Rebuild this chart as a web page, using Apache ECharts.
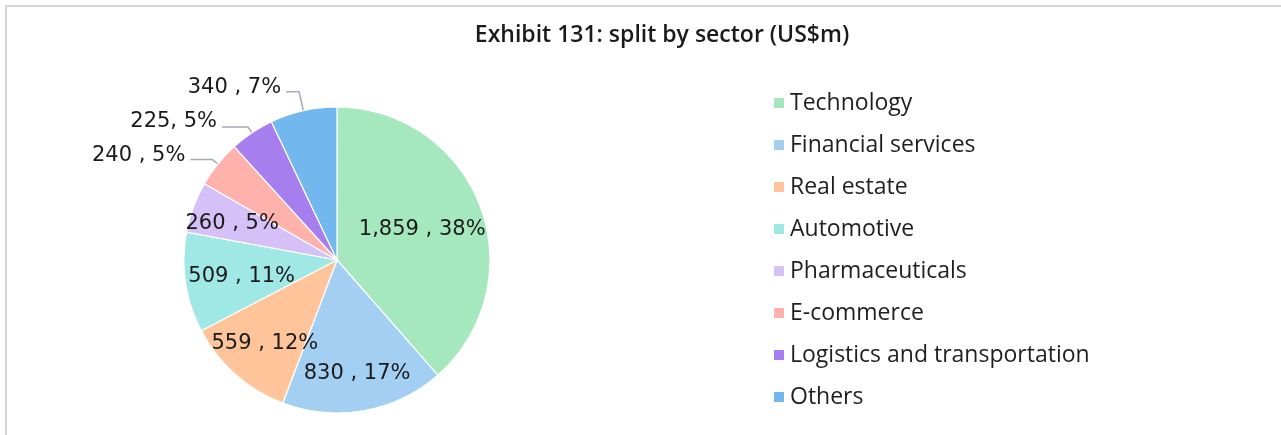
<!DOCTYPE html>
<html>
<head>
<meta charset="utf-8">
<script src="https://cdn.jsdelivr.net/npm/echarts@6/dist/echarts.min.js"></script>
<style>
  html, body { margin: 0; padding: 0; background: #ffffff; }
  #chart { width: 1281px; height: 435px; }
</style>
</head>
<body>
<div id="chart"></div>
<script>
// Sector split, US$m
const sectors = ['Technology', 'Financial services', 'Real estate', 'Automotive',
                 'Pharmaceuticals', 'E-commerce', 'Logistics and transportation', 'Others'];
const amounts = [1859, 830, 559, 509, 260, 240, 225, 340];
const shares = [38, 17, 12, 11, 5, 5, 5, 7];           // % as published
const sliceColors = ['#a5e8bd', '#a3cff3', '#ffc499', '#a0e8e5',
                     '#d5c0f7', '#ffb2ab', '#a77eed', '#72b8ee'];

const TITLE = 'Exhibit 131: split by sector (US$m)';

// pie geometry
const CENTER = [337, 260];
const RADIUS = 153;
// radial position (fraction of radius) of the in-slice labels
const innerLabelRadius = [0.595, 0.74, 0.71, 0.63, 0.73];
// slices labelled outside: radial leg, horizontal leg, text raise above the leg
const outerLabels = {
  5: { length: 7, length2: 22, raise: 4.5 },
  6: { length: 7, length2: 26, raise: 5.5 },
  7: { length: 19.5, length2: 13, raise: 4.5 }
};
const tightComma = new Set([6]);
const LINE_GAP = 5;
const GLYPH_SHIFT = 2;   // digits sit a little above the text box middle

const fmtNum = v => v.toLocaleString('en-US');
const total = amounts.reduce((a, b) => a + b, 0);

function midAngle(i) {
  let before = 0;
  for (let k = 0; k < i; k++) before += amounts[k];
  return (before + amounts[i] / 2) / total * Math.PI * 2;
}

const pieData = sectors.map((name, i) => {
  const sep = tightComma.has(i) ? ', ' : ' , ';
  const item = {
    name: name,
    value: amounts[i],
    itemStyle: { color: sliceColors[i] },
    label: { formatter: fmtNum(amounts[i]) + sep + shares[i] + '%' }
  };
  if (outerLabels[i]) {
    item.label.position = 'outside';
    item.labelLine = {
      show: true,
      length: outerLabels[i].length,
      length2: outerLabels[i].length2,
      lineStyle: { color: '#a9a9b9', width: 1.5 }
    };
  }
  return item;
});

const chart = echarts.init(document.getElementById('chart'), null, { renderer: 'canvas' });

chart.setOption({
  backgroundColor: '#ffffff',
  animation: false,
  graphic: [{
    type: 'rect',
    silent: true,
    shape: { x: 6, y: 6, width: 3000, height: 3000 },
    style: { fill: 'none', stroke: '#d4d4dc', lineWidth: 2 }
  }],
  title: {
    text: TITLE,
    left: 662,
    top: 22,
    padding: 0,
    textAlign: 'center',
    textStyle: {
      fontFamily: 'Open Sans',
      fontSize: 23,
      fontWeight: 600,
      color: '#1a1a1a',
      lineHeight: 27
    }
  },
  legend: {
    orient: 'vertical',
    left: 772,
    top: 91.5,
    padding: 0,
    icon: 'rect',
    itemWidth: 12,
    itemHeight: 12,
    itemGap: 19,
    selectedMode: false,
    data: sectors,
    textStyle: {
      fontFamily: 'Open Sans',
      fontSize: 23,
      color: '#1f1f1f',
      lineHeight: 22
    }
  },
  series: [{
    type: 'pie',
    center: CENTER,
    radius: [0, RADIUS],
    startAngle: 90,
    clockwise: true,
    avoidLabelOverlap: false,
    itemStyle: { borderColor: '#ffffff', borderWidth: 1.2 },
    label: {
      show: true,
      position: 'inside',
      fontFamily: 'DejaVu Sans',
      fontSize: 21,
      color: '#1a1a1a'
    },
    labelLine: { show: false },
    emphasis: { disabled: true },
    labelLayout: function (p) {
      const i = p.dataIndex;
      const a = midAngle(i);
      const sx = Math.sin(a), sy = -Math.cos(a);
      const outer = outerLabels[i];
      if (outer) {
        // leader: slice edge -> radial elbow -> horizontal run to the text
        const p0 = [CENTER[0] + sx * RADIUS, CENTER[1] + sy * RADIUS];
        const p1 = [p0[0] + sx * outer.length, p0[1] + sy * outer.length];
        const p2 = [p1[0] - outer.length2, p1[1]];
        return {
          x: p2[0] - LINE_GAP,
          y: p2[1] - outer.raise,
          align: 'right',
          verticalAlign: 'middle',
          labelLinePoints: [p0, p1, p2]
        };
      }
      const k = innerLabelRadius[i];
      return {
        x: CENTER[0] + sx * RADIUS * k,
        y: CENTER[1] + sy * RADIUS * k + GLYPH_SHIFT,
        align: 'center',
        verticalAlign: 'middle'
      };
    },
    data: pieData
  }]
});
</script>
</body>
</html>
